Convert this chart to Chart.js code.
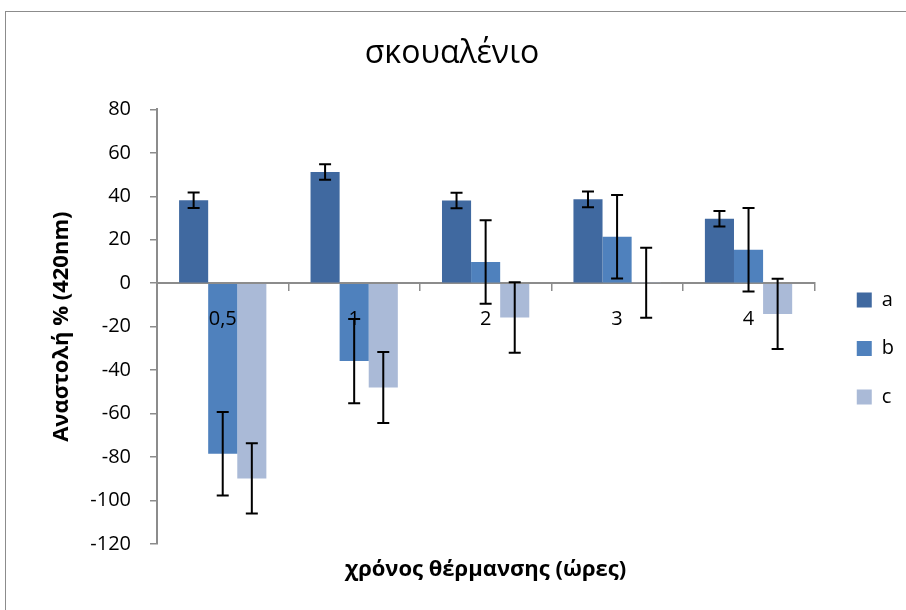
<!DOCTYPE html>
<html lang="el">
<head>
<meta charset="UTF-8">
<title>σκουαλένιο</title>
<script src="https://cdn.jsdelivr.net/npm/chart.js"></script>
<style>
  body { margin: 0; background: #fff; overflow: hidden; }
  #frame { position: absolute; left: 5px; top: 11px; width: 1000px; height: 1000px; border: 1.5px solid #8c8c8c; }
  #chart { position: absolute; left: 0; top: 0; }
</style>
</head>
<body>
<div id="frame"></div>
<canvas id="chart" width="926" height="610"></canvas>

<script>
    // δεδομένα
    const categories = ['0,5', '1', '2', '3', '4'];
    const valuesA = [38.2, 51.2, 38.1, 38.6, 29.7];
    const valuesB = [-78.5, -35.8, 9.8, 21.4, 15.4];
    const valuesC = [-89.8, -48.0, -15.8, 0.2, -14.1];
    const errA = [3.6, 3.6, 3.6, 3.6, 3.6];
    const errB = [19.2, 19.4, 19.2, 19.2, 19.2];
    const errC = [16.2, 16.3, 16.2, 16.1, 16.2];
    const yTicks = [-120, -100, -80, -60, -40, -20, 0, 20, 40, 60, 80];

    Chart.defaults.font.family = "'Open Sans', sans-serif";
    const axisGray = '#8c8c8c';

    // μπάρες σφάλματος
    const errorBars = {
        id: 'errorBars',
        afterDatasetsDraw(chart) {
            const ctx = chart.ctx;
            const y = chart.scales.y;
            ctx.save();
            ctx.strokeStyle = '#000';
            ctx.lineWidth = 2;
            chart.data.datasets.forEach((ds, i) => {
                chart.getDatasetMeta(i).data.forEach((bar, j) => {
                    const v = ds.data[j], e = ds.errors[j];
                    const top = y.getPixelForValue(v + e);
                    const bot = y.getPixelForValue(v - e);
                    ctx.beginPath();
                    ctx.moveTo(bar.x, top); ctx.lineTo(bar.x, bot);
                    ctx.moveTo(bar.x - 6, top); ctx.lineTo(bar.x + 6, top);
                    ctx.moveTo(bar.x - 6, bot); ctx.lineTo(bar.x + 6, bot);
                    ctx.stroke();
                });
            });
            ctx.restore();
        }
    };

    new Chart(document.getElementById('chart'), {
        type: 'bar',
        data: {
            labels: categories,
            datasets: [
                { label: 'a', data: valuesA, errors: errA, backgroundColor: '#4069a0' },
                { label: 'b', data: valuesB, errors: errB, backgroundColor: '#4f81bd' },
                { label: 'c', data: valuesC, errors: errC, backgroundColor: '#aabad7' }
            ]
        },
        options: {
            responsive: false,
            animation: false,
            layout: { padding: { left: 0, right: 22, top: 0, bottom: 0 } },
            datasets: { bar: { categoryPercentage: 0.664, barPercentage: 1 } },
            scales: {
                x: {
                    position: { y: 0 },
                    grid: { drawOnChartArea: false, tickLength: 7, color: axisGray, lineWidth: 1.5 },
                    border: { color: axisGray, width: 2 },
                    ticks: { z: 1, color: '#000', font: { size: 20 }, padding: 17, maxRotation: 0 }
                },
                x2: {
                    position: 'bottom',
                    grid: { display: false },
                    border: { display: false },
                    ticks: { display: false },
                    title: {
                        display: true, text: 'χρόνος θέρμανσης (ώρες)', color: '#000',
                        font: { size: 22, weight: 'bold' }, padding: { top: 0, bottom: 27 }
                    },
                    afterFit: s => { s.height = 66; }
                },
                y: {
                    min: -120,
                    max: 80,
                    afterBuildTicks: s => { s.ticks = yTicks.map(v => ({ value: v })); },
                    grid: { drawOnChartArea: false, tickLength: 7, color: axisGray, lineWidth: 1.5 },
                    border: { color: axisGray, width: 2 },
                    ticks: { color: '#000', font: { size: 20 }, padding: 19 },
                    title: {
                        display: true, text: 'Αναστολή % (420nm)', color: '#000',
                        font: { size: 22, weight: 'bold' }, padding: { top: 49, bottom: 0 }
                    },
                    afterFit: s => { s.width = 157; }
                },
                y2: {
                    position: 'right',
                    grid: { display: false },
                    border: { display: false },
                    ticks: { display: false },
                    afterFit: s => { s.width = 14; }
                }
            },
            plugins: {
                title: {
                    display: true, text: 'σκουαλένιο', color: '#000',
                    font: { size: 32, weight: 'normal' }, padding: { top: 35, bottom: 36 }
                },
                legend: {
                    position: 'right',
                    labels: { color: '#000', font: { size: 20 }, boxWidth: 15, boxHeight: 15, padding: 28.5 },
                    title: { display: true, text: ' ', font: { size: 10, lineHeight: 1 }, padding: { top: 77, bottom: 0 } }
                },
                tooltip: { enabled: false }
            }
        },
        plugins: [errorBars]
    });
</script>
</body>
</html>
